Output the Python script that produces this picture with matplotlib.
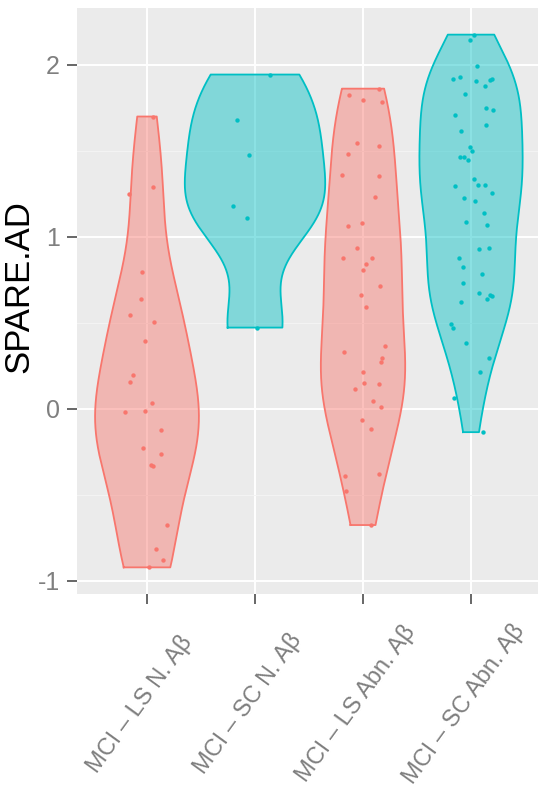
import numpy as np
import matplotlib
matplotlib.use('Agg')
import matplotlib.pyplot as plt
from matplotlib import transforms

plt.rcParams['font.family'] = ['Liberation Sans', 'DejaVu Sans']
plt.rcParams['axes.unicode_minus'] = False

# Groups and their colours (ggplot default hue palette)
groups = ['MCI – LS N. Aβ', 'MCI – SC N. Aβ', 'MCI – LS Abn. Aβ', 'MCI – SC Abn. Aβ']
group_colors = ['#F8766D', '#00BFC4', '#F8766D', '#00BFC4']

# SPARE.AD values, with the jitter seen for each point
ls_normal = [1.70, 1.29, 1.25, 0.795, 0.64, 0.547, 0.504, 0.394, 0.196, 0.157, 0.033,
             -0.017, -0.014, -0.122, -0.227, -0.262, -0.328, -0.331, -0.676, -0.816,
             -0.878, -0.921]
ls_normal_jit = [0.058, 0.058, -0.169, -0.046, -0.058, -0.157, 0.065, -0.021, -0.127,
                 -0.160, 0.046, -0.206, -0.021, 0.130, -0.040, 0.127, 0.034, 0.058,
                 0.188, 0.083, 0.145, 0.021]

sc_normal = [1.944, 1.68, 1.477, 1.182, 1.112, 0.473]
sc_normal_jit = [0.139, -0.164, -0.056, -0.201, -0.077, 0.016]

ls_abn = [1.862, 1.827, 1.797, 1.785, 1.548, 1.531, 1.484, 1.362, 1.353, 1.231, 1.066,
          1.083, 0.938, 0.878, 0.880, 0.843, 0.810, 0.713, 0.665, 0.591, 0.364, 0.333,
          0.295, 0.273, 0.217, 0.153, 0.118, 0.143, 0.047, 0.014, -0.064, -0.118,
          -0.390, -0.477, -0.376, -0.675]
ls_abn_jit = [0.148, -0.130, 0.003, 0.173, -0.058, 0.151, -0.136, -0.194, 0.145, 0.108,
              -0.136, -0.006, -0.058, -0.182, 0.086, 0.025, 0.003, 0.160, -0.021, 0.031,
              0.204, -0.176, 0.179, 0.164, 0.003, 0.006, -0.074, 0.148, 0.090, 0.169,
              -0.006, 0.074, -0.169, -0.160, 0.148, 0.075]

sc_abn = [2.176, 2.143, 1.994, 1.917, 1.932, 1.907, 1.880, 1.915, 1.919, 1.828, 1.707,
          1.750, 1.737, 1.653, 1.614, 1.523, 1.500, 1.467, 1.467, 1.450, 1.337, 1.297,
          1.304, 1.304, 1.254, 1.227, 1.209, 1.140, 1.087, 1.070, 0.932, 0.936, 0.878,
          0.827, 0.787, 0.733, 0.674, 0.663, 0.657, 0.638, 0.622, 0.496, 0.473, 0.382,
          0.297, 0.215, 0.064, -0.135]
sc_abn_jit = [0.031, -0.006, 0.058, -0.169, -0.102, 0.044, 0.132, 0.176, 0.197, -0.058,
              -0.148, 0.142, 0.204, 0.136, -0.093, -0.006, 0.012, -0.105, -0.065, -0.031,
              0.025, -0.148, 0.068, 0.127, 0.192, -0.065, 0.037, 0.120, -0.046, 0.148,
              0.074, 0.169, -0.114, -0.071, 0.102, -0.071, 0.071, 0.173, 0.192, 0.148,
              -0.095, -0.182, -0.169, -0.046, 0.169, 0.081, -0.160, 0.108]

values = [ls_normal, sc_normal, ls_abn, sc_abn]
jitters = [ls_normal_jit, sc_normal_jit, ls_abn_jit, sc_abn_jit]


def nrd0(x):
    # R's default bandwidth
    x = np.asarray(x)
    sd = x.std(ddof=1)
    iqr = np.subtract(*np.percentile(x, [75, 25]))
    lo = min(sd, iqr / 1.34)
    return 0.9 * lo * len(x) ** -0.2


def kde(x, grid):
    x = np.asarray(x)
    bw = nrd0(x)
    z = (grid[:, None] - x[None, :]) / bw
    return np.exp(-0.5 * z ** 2).sum(axis=1) / (len(x) * bw * np.sqrt(2 * np.pi))


# trimmed violins, scaled by area
grids, dens = [], []
for v in values:
    g = np.linspace(min(v), max(v), 512)
    grids.append(g)
    dens.append(kde(v, g))
dmax = max(d.max() for d in dens)
violin_width = 1.3

fig = plt.figure(figsize=(5.38, 7.87), dpi=100)
ax = fig.add_axes([77 / 538, 1 - 594 / 787, 461 / 538, 586 / 787])
ax.set_facecolor('#EBEBEB')

for i, (g, d, v, jit, col) in enumerate(zip(grids, dens, values, jitters, group_colors)):
    pos = i + 1
    hw = d / dmax * violin_width / 2
    ax.fill_betweenx(g, pos - hw, pos + hw, facecolor=col, alpha=0.45, lw=0, zorder=2)
    xs = np.concatenate([pos - hw, (pos + hw)[::-1], [pos - hw[0]]])
    ys = np.concatenate([g, g[::-1], [g[0]]])
    ax.plot(xs, ys, color=col, lw=1.3, zorder=3)
    ax.scatter(pos + np.asarray(jit), v, s=10, color=col, lw=0, zorder=4)

allv = np.concatenate([np.asarray(v) for v in values])
rng = allv.max() - allv.min()
ax.set_ylim(allv.min() - 0.05 * rng, allv.max() + 0.05 * rng)
ax.set_xlim(0.352, 4.62)

ax.set_yticks([-1, 0, 1, 2])
ax.set_yticklabels(['-1', '0', '1', '2'])
ax.set_yticks([-0.5, 0.5, 1.5], minor=True)
ax.set_xticks([1, 2, 3, 4])
ax.set_xticklabels([])
ax.grid(which='major', color='white', lw=1.4)
ax.grid(which='minor', axis='y', color='#F4F4F4', lw=0.7)
ax.set_axisbelow(True)
for s in ax.spines.values():
    s.set_visible(False)
ax.tick_params(axis='both', which='major', length=7.5, width=1.4, color='#666666',
               labelcolor='#7F7F7F', labelsize=18, pad=5)
ax.tick_params(which='minor', length=0)

ax.set_ylabel('SPARE.AD', fontsize=25, color='black')
ax.yaxis.set_label_coords(-0.091, 0.525)

# rotated category labels centred below each tick
base = transforms.blended_transform_factory(ax.transData, ax.transAxes)
tr = transforms.offset_copy(base, fig=fig, x=-7, y=-110, units='dots')
for i, name in enumerate(groups):
    ax.text(i + 1, 0, name, transform=tr, rotation=54, ha='center', va='center',
            fontsize=17, color='#7F7F7F')

fig.savefig('out.png', dpi=100)
